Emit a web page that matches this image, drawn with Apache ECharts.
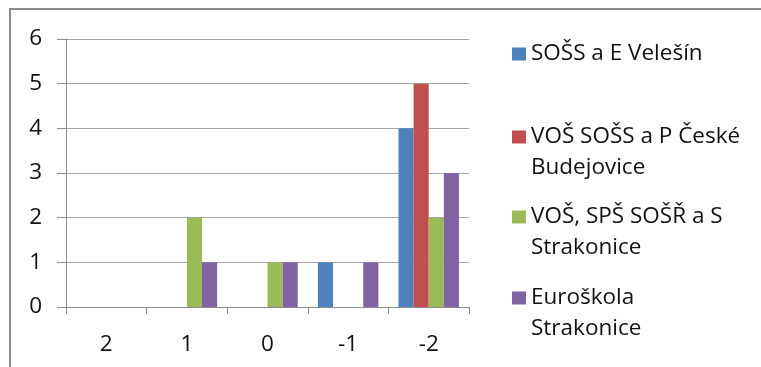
<!DOCTYPE html>
<html>
<head>
<meta charset="utf-8">
<script src="https://cdn.jsdelivr.net/npm/echarts@6/dist/echarts.min.js"></script>
<style>
  html, body { margin: 0; padding: 0; background: #fff; }
  #chart { width: 761px; height: 367px; }
</style>
</head>
<body>
<div id="chart"></div>
<script>
// categories on the x axis
var categories = ['2', '1', '0', '-1', '-2'];

// series names (legend text, with line breaks as in the picture)
var seriesNames = [
  'SOŠS a E Velešín',
  'VOŠ SOŠS a P České Budejovice',
  'VOŠ, SPŠ SOŠŘ a S Strakonice',
  'Euroškola Strakonice'
];
var legendLines = [
  ['SOŠS a E Velešín'],
  ['VOŠ SOŠS a P České', 'Budejovice'],
  ['VOŠ, SPŠ SOŠŘ a S', 'Strakonice'],
  ['Euroškola', 'Strakonice']
];

// values per series
var velesin = [0, 0, 0, 1, 4];
var budejovice = [0, 0, 0, 0, 5];
var spsStrakonice = [0, 2, 1, 0, 2];
var euroskola = [0, 1, 1, 1, 3];

var seriesValues = [velesin, budejovice, spsStrakonice, euroskola];
var colors = ['#4F81BD', '#C0504D', '#9BBB59', '#8064A2'];

var font = 'Open Sans';
var fontSize = 22.5;
var gray = '#8c8c8c';

(function () {
  var myChart = echarts.init(document.getElementById('chart'));

  var seriesList = [];
  var legends = [];
  var legendCenters = [54, 137, 217, 298];
  var lineH = 31;

  echarts.util.each(seriesNames, function (name, i) {
    seriesList.push({
      type: 'bar',
      name: name,
      data: seriesValues[i],
      barGap: 0,
      barCategoryGap: '25%',
      itemStyle: { color: colors[i] },
      animation: false
    });

    var lines = legendLines[i];
    // icon lines up with the first text line
    var nLines = lines.length === 1 ? 1 : 3;
    legends.push({
      data: [name],
      orient: 'vertical',
      left: 512,
      top: legendCenters[i] - (nLines * lineH) / 2,
      itemWidth: 14,
      itemHeight: 13,
      itemGap: 0,
      icon: 'rect',
      padding: 0,
      selectedMode: false,
      formatter: function () {
        return lines.length === 1 ? lines[0] : '\n' + lines.join('\n');
      },
      textStyle: {
        fontFamily: font,
        fontSize: fontSize,
        lineHeight: lineH,
        color: '#111'
      }
    });
  });

  var option = {
    animation: false,
    legend: legends,
    grid: {
      left: 66,
      top: 39,
      width: 403,
      height: 268
    },
    xAxis: {
      type: 'category',
      data: categories,
      axisLine: { lineStyle: { color: gray, width: 1 } },
      axisTick: { show: true, length: 7, alignWithLabel: false, lineStyle: { color: gray } },
      axisLabel: {
        margin: 26,
        fontFamily: font,
        fontSize: fontSize,
        color: '#111'
      },
      splitLine: { show: false }
    },
    yAxis: {
      type: 'value',
      min: 0,
      max: 6,
      interval: 1,
      axisLine: { show: true, lineStyle: { color: gray, width: 1 } },
      axisTick: { show: true, length: 9, lineStyle: { color: gray } },
      axisLabel: {
        margin: 24,
        fontFamily: font,
        fontSize: fontSize,
        color: '#111'
      },
      splitLine: { show: true, lineStyle: { color: '#a6a6a6', width: 1 } }
    },
    graphic: [{
      type: 'rect',
      silent: true,
      shape: { x: 10, y: 9, width: 800, height: 400 },
      style: { fill: null, stroke: gray, lineWidth: 2 }
    }],
    series: seriesList
  };

  myChart.setOption(option);
})();
</script>
</body>
</html>
